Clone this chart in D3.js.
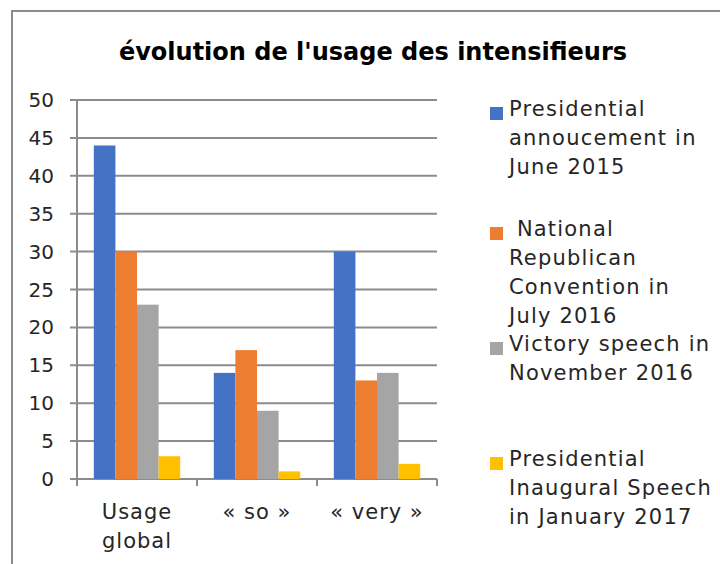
<!DOCTYPE html>
<html>
<head>
<meta charset="utf-8">
<script src="https://cdn.jsdelivr.net/npm/d3@7"></script>
<style>
  body { margin: 0; background: #fff; }
  text { font-family: 'DejaVu Sans', sans-serif; fill: #262626; }
</style>
</head>
<body>
<div id="chart"></div>
<script>
var categories = [['Usage', 'global'], ['\u00ab so \u00bb'], ['\u00ab very \u00bb']];
var seriesNames = [
  ['Presidential', 'annoucement in', 'June 2015'],
  [' National', 'Republican', 'Convention in', 'July 2016'],
  ['Victory speech in', 'November 2016'],
  ['Presidential', 'Inaugural Speech', 'in January 2017']
];
var june2015 = [44, 14, 30];
var july2016 = [30, 17, 13];
var nov2016 = [23, 9, 14];
var jan2017 = [3, 1, 2];
var yTicks = [0, 5, 10, 15, 20, 25, 30, 35, 40, 45, 50];
var colors = ['#4472c4', '#ed7d31', '#a5a5a5', '#ffc000'];

var series = [june2015, july2016, nov2016, jan2017];

var svg = d3.select('#chart').append('svg')
  .attr('width', 720)
  .attr('height', 564);

// frame of the chart area (only top + left visible)
svg.append('path')
  .attr('d', 'M12,564 V11 H720')
  .attr('fill', 'none')
  .attr('stroke', '#8c8c8c')
  .attr('stroke-width', 2);

svg.append('text')
  .attr('x', 373)
  .attr('y', 60)
  .attr('text-anchor', 'middle')
  .style('font-size', '24px')
  .style('font-weight', 'bold')
  .style('fill', '#000')
  .text("\u00e9volution de l'usage des intensifieurs");

var x0 = d3.scaleBand()
  .domain(d3.range(categories.length))
  .range([77, 437])
  .paddingInner(0.28)
  .paddingOuter(0.14);

var x1 = d3.scaleBand()
  .domain(d3.range(series.length))
  .range([0, x0.bandwidth()]);

var y = d3.scaleLinear()
  .domain([0, 50])
  .range([479, 100]);

// gridlines
svg.append('g')
  .selectAll('line')
  .data(yTicks)
  .enter().append('line')
  .attr('x1', 70)
  .attr('x2', 437)
  .attr('y1', function(d) { return y(d); })
  .attr('y2', function(d) { return y(d); })
  .attr('stroke', '#8c8c8c')
  .attr('stroke-width', 2);

// y axis line
svg.append('line')
  .attr('x1', 77).attr('x2', 77)
  .attr('y1', 100).attr('y2', 486)
  .attr('stroke', '#8c8c8c')
  .attr('stroke-width', 2);

// category ticks
svg.append('g')
  .selectAll('line')
  .data(d3.range(categories.length + 1))
  .enter().append('line')
  .attr('x1', function(i) { return 77 + i * 120; })
  .attr('x2', function(i) { return 77 + i * 120; })
  .attr('y1', 479)
  .attr('y2', 486)
  .attr('stroke', '#8c8c8c')
  .attr('stroke-width', 2);

// y labels
svg.append('g')
  .selectAll('text')
  .data(yTicks)
  .enter().append('text')
  .attr('x', 54)
  .attr('y', function(d) { return y(d) + 7; })
  .attr('text-anchor', 'end')
  .style('font-size', '20px')
  .text(function(d) { return d; });

// bars
series.forEach(function(vals, s) {
  svg.append('g')
    .selectAll('rect')
    .data(vals)
    .enter().append('rect')
    .attr('x', function(d, i) { return x0(i) + x1(s); })
    .attr('width', x1.bandwidth())
    .attr('y', function(d) { return y(d); })
    .attr('height', function(d) { return y(0) - y(d); })
    .attr('fill', colors[s]);
});

// category labels
var catG = svg.append('g')
  .selectAll('text')
  .data(categories)
  .enter().append('text')
  .attr('text-anchor', 'middle')
  .attr('x', function(d, i) { return 77 + i * 120 + 60; })
  .attr('y', 519)
  .style('font-size', '21px')
  .style('letter-spacing', '1px');
catG.selectAll('tspan')
  .data(function(d) { return d; })
  .enter().append('tspan')
  .attr('x', function() { return d3.select(this.parentNode).attr('x'); })
  .attr('dy', function(d, i) { return i === 0 ? 0 : 29; })
  .text(function(d) { return d; });

// legend
var legendTop = [107, 227, 342, 457];
var legend = svg.selectAll('.legend')
  .data(seriesNames)
  .enter().append('g')
  .attr('class', 'legend')
  .attr('transform', function(d, i) { return 'translate(490,' + legendTop[i] + ')'; });

legend.append('rect')
  .attr('width', 13)
  .attr('height', 13)
  .attr('fill', function(d, i) { return colors[i]; });

legend.append('text')
  .attr('x', 19)
  .attr('y', 9)
  .style('font-size', '21px')
  .style('letter-spacing', '1.2px')
  .style('white-space', 'pre')
  .selectAll('tspan')
  .data(function(d) { return d; })
  .enter().append('tspan')
  .attr('x', 19)
  .attr('dy', function(d, i) { return i === 0 ? 0 : 29; })
  .text(function(d) { return d; });
</script>
</body>
</html>
